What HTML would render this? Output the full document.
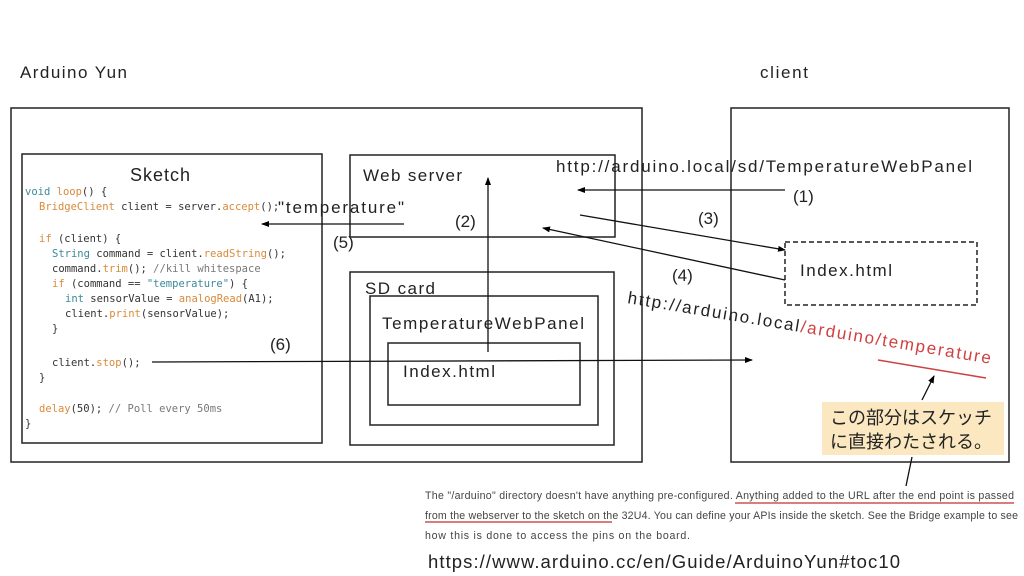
<!DOCTYPE html>
<html><head><meta charset="utf-8"><style>
body{margin:0;background:#fff;}
svg{display:block;font-family:"Liberation Sans","Noto Sans CJK JP",sans-serif;}
.m{font-family:"DejaVu Sans Mono","Liberation Mono",monospace;font-size:10.5px;fill:#333;}
.o{fill:#d98a3a;} .b{fill:#3a8a9a;} .g{fill:#777;}
</style></head><body>
<svg width="1024" height="576" viewBox="0 0 1024 576" xmlns="http://www.w3.org/2000/svg">
<defs><marker id="a" markerWidth="8" markerHeight="8" refX="7" refY="4" orient="auto" markerUnits="userSpaceOnUse"><path d="M0,1 L8,4 L0,7 z" fill="#000"/></marker></defs>
<g fill="none" stroke="#222" stroke-width="1.5">
<rect x="11" y="108" width="631" height="354"/>
<rect x="731" y="108" width="278" height="354"/>
<rect x="22" y="154" width="300" height="289"/>
<rect x="350" y="155" width="265" height="82"/>
<rect x="350" y="272" width="264" height="173"/>
<rect x="370" y="296" width="228" height="129"/>
<rect x="388" y="343" width="192" height="62"/>
<rect x="785" y="242" width="192" height="63" stroke-dasharray="5,3"/>
</g>
<rect x="822" y="402" width="182" height="53" fill="#fbe8c0"/>
<g stroke="#111" stroke-width="1.3" fill="none">
<line x1="785" y1="190" x2="578" y2="190" marker-end="url(#a)"/>
<line x1="580" y1="215" x2="785" y2="250" marker-end="url(#a)"/>
<line x1="785" y1="280" x2="543" y2="228" marker-end="url(#a)"/>
<line x1="488" y1="352" x2="488" y2="178" marker-end="url(#a)"/>
<line x1="404" y1="224" x2="262" y2="224" marker-end="url(#a)"/>
<line x1="152" y1="362" x2="752" y2="360" marker-end="url(#a)"/>
<line x1="922" y1="400" x2="934" y2="376" marker-end="url(#a)"/>
<line x1="912" y1="457" x2="906" y2="486"/>
</g>
<line x1="878" y1="360" x2="986" y2="378" stroke="#d04040" stroke-width="1.5"/>
<line x1="735" y1="503" x2="1014" y2="503" stroke="#c03030" stroke-width="1.3"/>
<line x1="425" y1="522" x2="612" y2="522" stroke="#c03030" stroke-width="1.3"/>
<g font-size="17" fill="#222">
<text x="20" y="78" textLength="107">Arduino Yun</text>
<text x="760" y="78" textLength="48">client</text>
<text x="130" y="181" font-size="18" textLength="60">Sketch</text>
<text x="363" y="181" textLength="99">Web server</text>
<text x="365" y="294" textLength="70">SD card</text>
<text x="382" y="329" textLength="202">TemperatureWebPanel</text>
<text x="403" y="377" textLength="92">Index.html</text>
<text x="800" y="276" textLength="92">Index.html</text>
<text x="556" y="172" textLength="416">http://arduino.local/sd/TemperatureWebPanel</text>
<text x="278" y="213" textLength="126">"temperature"</text>
<text x="793" y="202">(1)</text>
<text x="455" y="227">(2)</text>
<text x="698" y="224">(3)</text>
<text x="672" y="281">(4)</text>
<text x="333" y="248">(5)</text>
<text x="270" y="350">(6)</text>
<text transform="translate(627,303) rotate(9.5)" textLength="368">http://arduino.local<tspan fill="#d04040">/arduino/temperature</tspan></text>
<text x="830" y="424" font-size="18">この部分はスケッチ</text>
<text x="830" y="448" font-size="18">に直接わたされる。</text>
<text x="428" y="568" font-size="18.5" textLength="472">https://www.arduino.cc/en/Guide/ArduinoYun#toc10</text>
</g>
<g font-size="10.6" fill="#444">
<text x="425" y="499" textLength="589">The "/arduino" directory doesn't have anything pre-configured. Anything added to the URL after the end point is passed</text>
<text x="425" y="519" textLength="593">from the webserver to the sketch on the 32U4. You can define your APIs inside the sketch. See the Bridge example to see</text>
<text x="425" y="539" textLength="265">how this is done to access the pins on the board.</text>
</g>
<g class="m">
<text x="25" y="195"><tspan class="b">void</tspan> <tspan class="o">loop</tspan>() {</text>
<text x="39" y="210"><tspan class="o">BridgeClient</tspan> client = server.<tspan class="o">accept</tspan>();</text>
<text x="39" y="242"><tspan class="o">if</tspan> (client) {</text>
<text x="52" y="257"><tspan class="b">String</tspan> command = client.<tspan class="o">readString</tspan>();</text>
<text x="52" y="272">command.<tspan class="o">trim</tspan>();        <tspan class="g">//kill whitespace</tspan></text>
<text x="52" y="287"><tspan class="o">if</tspan> (command == <tspan class="b">"temperature"</tspan>) {</text>
<text x="65" y="302"><tspan class="b">int</tspan> sensorValue = <tspan class="o">analogRead</tspan>(A1);</text>
<text x="65" y="317">client.<tspan class="o">print</tspan>(sensorValue);</text>
<text x="52" y="332">}</text>
<text x="52" y="366">client.<tspan class="o">stop</tspan>();</text>
<text x="39" y="381">}</text>
<text x="39" y="412"><tspan class="o">delay</tspan>(50); <tspan class="g">// Poll every 50ms</tspan></text>
<text x="25" y="427">}</text>
</g>
</svg>
</body></html>
